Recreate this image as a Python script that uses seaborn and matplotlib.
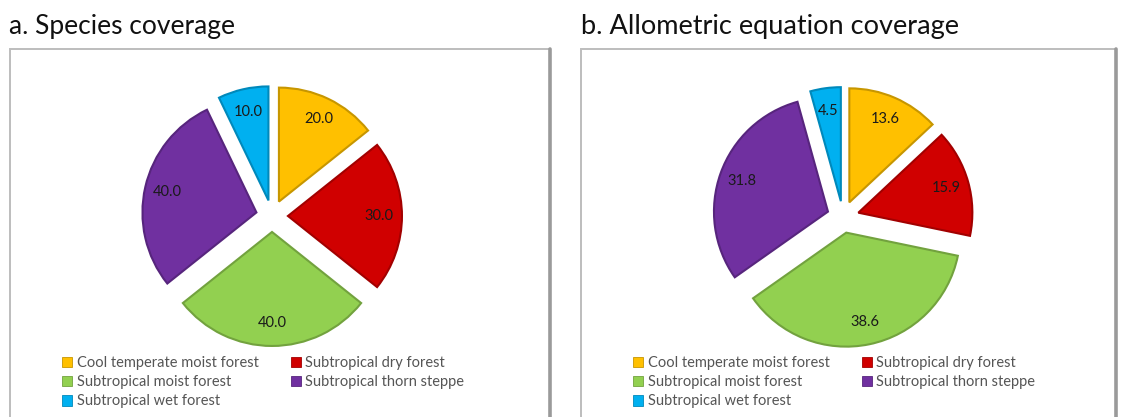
import matplotlib
matplotlib.use("Agg")
import matplotlib.pyplot as plt
from matplotlib.patches import Rectangle, Patch
from matplotlib.lines import Line2D
import matplotlib.colors as mcolors
import seaborn as sns

# Climatic zones and their shares
zones = [
    "Cool temperate moist forest",
    "Subtropical dry forest",
    "Subtropical moist forest",
    "Subtropical thorn steppe",
    "Subtropical wet forest",
]
species_coverage = [20.0, 30.0, 40.0, 40.0, 10.0]
equation_coverage = [13.6, 15.9, 38.6, 31.8, 4.5]
zone_colors = ["#FFC000", "#D00000", "#92D050", "#7030A0", "#00B0F0"]
panel_titles = ["a. Species coverage", "b. Allometric equation coverage"]

sns.set_theme(style="white")
plt.rcParams["font.family"] = ["Lato", "DejaVu Sans"]

W, H = 1123, 417
fig = plt.figure(figsize=(W / 100, H / 100), dpi=100)
fig.patch.set_facecolor("white")

R_PX = 114          # pie radius in pixels
HALF = 150          # half side of each pie axes in pixels
LIM = HALF / R_PX


def darker(c, f=0.78):
    r, g, b = mcolors.to_rgb(c)
    return (r * f, g * f, b * f)


def px_axes(cx, cy, half):
    return fig.add_axes([(cx - half) / W, 1 - (cy + half) / H,
                         2 * half / W, 2 * half / H])


def draw_panel(values, title, box, center, title_x, legend_x, title_size):
    # frame around the panel
    x0, y0, x1 = box
    fig.add_artist(Rectangle((x0 / W, -0.05), (x1 - x0) / W, 1 - y0 / H + 0.05,
                             transform=fig.transFigure, fill=False,
                             edgecolor="#bdbdbd", linewidth=1.4))
    fig.add_artist(Line2D([x1 / W, x1 / W], [-0.05, 1 - y0 / H],
                          transform=fig.transFigure, color="#9a9a9a",
                          linewidth=2.6))
    fig.text(title_x / W, 1 - 34 / H, title, fontsize=title_size,
             color="#111111", va="baseline", ha="left")

    ax = px_axes(center[0], center[1], HALF)
    it = iter(values)
    wedges, texts, autotexts = ax.pie(
        values, colors=zone_colors, startangle=90, counterclock=False,
        explode=[0.14] * len(values), autopct=lambda p: f"{next(it):.1f}",
        pctdistance=0.8,
        wedgeprops=dict(linewidth=1.5),
        textprops=dict(color="#1a1a1a", fontsize=10.5),
    )
    for w, c in zip(wedges, zone_colors):
        w.set_edgecolor(darker(c))
    ax.set_xlim(-LIM, LIM)
    ax.set_ylim(-LIM, LIM)
    ax.set_aspect("equal")
    ax.axis("off")

    handles = [Patch(facecolor=c, edgecolor=darker(c), linewidth=0.6)
               for c in zone_colors]
    order = [0, 2, 4, 1, 3]
    leg = ax.legend([handles[i] for i in order], [zones[i] for i in order],
                    ncol=2, loc="upper left",
                    bbox_to_anchor=(legend_x / W, 1 - 356 / H),
                    bbox_transform=fig.transFigure, frameon=False,
                    fontsize=10.5, handlelength=0.7, handleheight=0.7,
                    handletextpad=0.3, labelspacing=0.36, columnspacing=2.2,
                    borderpad=0, borderaxespad=0)
    for t in leg.get_texts():
        t.set_color("#555555")


draw_panel(species_coverage, panel_titles[0], (10, 49, 550), (272, 216), 9, 62, 19)
draw_panel(equation_coverage, panel_titles[1], (581, 49, 1116), (843, 217), 581, 633, 19.5)

fig.savefig("out.png", dpi=100, facecolor="white")
